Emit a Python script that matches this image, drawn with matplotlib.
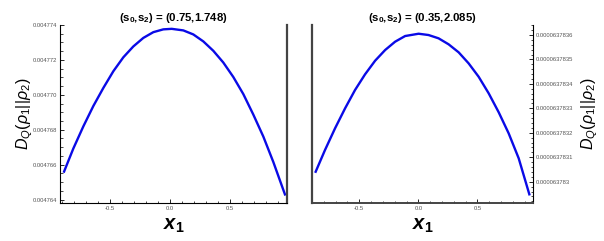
import matplotlib

matplotlib.use("Agg")

import matplotlib.pyplot as plt
from matplotlib.ticker import FixedLocator, MultipleLocator, FixedFormatter

plt.rcParams["font.family"] = ["Liberation Sans", "DejaVu Sans"]
plt.rcParams["mathtext.fontset"] = "custom"
plt.rcParams["mathtext.rm"] = "Liberation Sans"
plt.rcParams["mathtext.it"] = "Liberation Sans:italic"
plt.rcParams["mathtext.bf"] = "Liberation Sans:bold"
plt.rcParams["mathtext.bfit"] = "Liberation Sans:bold:italic"

# left panel, (s0, s2) = (0.75, 1.748)
x_left = [-0.883, -0.806, -0.7225, -0.639, -0.556, -0.4725, -0.389, -0.306,
          -0.2225, -0.139, -0.056, 0.014, 0.111, 0.194, 0.2775, 0.361, 0.444,
          0.5275, 0.611, 0.694, 0.7775, 0.861, 0.958]
d_left = [0.00476560, 0.00476692, 0.00476819, 0.00476936, 0.00477039,
          0.00477135, 0.00477215, 0.00477277, 0.00477326, 0.00477359,
          0.00477375, 0.00477378, 0.00477369, 0.00477346, 0.00477306,
          0.00477252, 0.00477185, 0.00477102, 0.00477004, 0.00476887,
          0.00476761, 0.00476615, 0.00476429]
yticks_left = [0.004764, 0.004766, 0.004768, 0.004770, 0.004772, 0.004774]
ylabels_left = ["0.004764", "0.004766", "0.004768", "0.004770", "0.004772", "0.004774"]

# right panel, (s0, s2) = (0.35, 2.085)
x_right = [-0.869, -0.790, -0.705, -0.620, -0.536, -0.451, -0.366, -0.281,
           -0.197, -0.112, 0.002, 0.086, 0.171, 0.256, 0.341, 0.425, 0.510,
           0.595, 0.680, 0.764, 0.849, 0.939]
d_right = [6.37830409e-5, 6.37831297e-5, 6.37832184e-5, 6.37833002e-5,
           6.37833750e-5, 6.37834393e-5, 6.37834949e-5, 6.37835387e-5,
           6.37835726e-5, 6.37835959e-5, 6.37836053e-5, 6.37836000e-5,
           6.37835865e-5, 6.37835620e-5, 6.37835292e-5, 6.37834843e-5,
           6.37834294e-5, 6.37833616e-5, 6.37832838e-5, 6.37831980e-5,
           6.37830957e-5, 6.37829485e-5]
yticks_right = [6.37830e-5, 6.37831e-5, 6.37832e-5, 6.37833e-5, 6.37834e-5,
                6.37835e-5, 6.37836e-5]
ylabels_right = ["0.000063783", "0.0000637831", "0.0000637832", "0.0000637833",
                 "0.0000637834", "0.0000637835", "0.0000637836"]

xticks = [-0.5, 0.0, 0.5]
xlabels = ["-0.5", "0.0", "0.5"]

line_color = "#0a0ae6"
tick_color = "#555555"
frame_color = "#444444"

fig = plt.figure(figsize=(6.04, 2.41), dpi=100)
ax1 = fig.add_axes([60 / 604, 38 / 241, 227 / 604, 178 / 241])
ax2 = fig.add_axes([312 / 604, 38 / 241, 221 / 604, 178 / 241])


def style_axes(ax, side):
    ax.spines["top"].set_visible(False)
    other = "right" if side == "left" else "left"
    ax.spines[side].set_color("black")
    ax.spines[side].set_linewidth(0.8)
    ax.spines[other].set_color(frame_color)
    ax.spines[other].set_linewidth(1.6)
    ax.spines["bottom"].set_color("black" if side == "left" else frame_color)
    ax.spines["bottom"].set_linewidth(0.8 if side == "left" else 1.4)
    ax.xaxis.set_major_locator(FixedLocator(xticks))
    ax.xaxis.set_major_formatter(FixedFormatter(xlabels))
    ax.xaxis.set_minor_locator(MultipleLocator(0.1))
    ax.tick_params(axis="both", which="both", direction="in", colors="black",
                   labelcolor=tick_color, labelsize=4.2, pad=2)
    ax.tick_params(which="major", length=3, width=0.6)
    ax.tick_params(which="minor", length=1.8, width=0.5)
    ax.tick_params(axis="y", which="both", left=(side == "left"), right=(side == "right"),
                   labelleft=(side == "left"), labelright=(side == "right"))


ax1.plot(x_left, d_left, color=line_color, linewidth=1.7, solid_joinstyle="round")
ax1.set_xlim(-0.917, 0.975)
ax1.set_ylim(0.0047638, 0.0047740)
style_axes(ax1, "left")
ax1.yaxis.set_major_locator(FixedLocator(yticks_left))
ax1.yaxis.set_major_formatter(FixedFormatter(ylabels_left))
ax1.yaxis.set_minor_locator(MultipleLocator(0.0000005))
ax1.set_title(r"($\mathbf{s}_\mathbf{0}$,$\mathbf{s}_\mathbf{2}$) = (0.75,1.748)",
              fontsize=8.2, fontweight="bold", pad=3)
ax1.set_xlabel(r"$\mathbfit{x}_\mathbf{1}$", fontsize=14.5)
ax1.set_ylabel(r"$\mathit{D}_{\mathit{Q}}(\rho_1||\rho_2)$", fontsize=11.5)
ax1.xaxis.set_label_coords(0.5, -0.075)
ax1.yaxis.set_label_coords(-0.112, 0.5)

ax2.plot(x_right, d_right, color=line_color, linewidth=1.7, solid_joinstyle="round")
ax2.set_xlim(-0.90, 0.97)
ax2.set_ylim(6.3782913e-5, 6.3783641e-5)
style_axes(ax2, "right")
ax2.yaxis.set_major_locator(FixedLocator(yticks_right))
ax2.yaxis.set_major_formatter(FixedFormatter(ylabels_right))
ax2.yaxis.set_minor_locator(MultipleLocator(0.2e-10))
ax2.yaxis.set_label_position("right")
ax2.set_title(r"($\mathbf{s}_\mathbf{0}$,$\mathbf{s}_\mathbf{2}$) = (0.35,2.085)",
              fontsize=8.2, fontweight="bold", pad=3)
ax2.set_xlabel(r"$\mathbfit{x}_\mathbf{1}$", fontsize=14.5)
ax2.set_ylabel(r"$\mathit{D}_{\mathit{Q}}(\rho_1||\rho_2)$", fontsize=11.5)
ax2.xaxis.set_label_coords(0.5, -0.075)
ax2.yaxis.set_label_coords(1.208, 0.5)

fig.savefig("out.png", dpi=100)
